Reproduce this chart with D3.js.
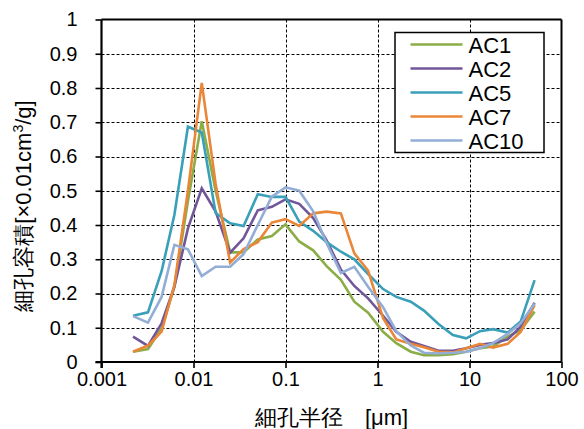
<!DOCTYPE html>
<html><head><meta charset="utf-8">
<script src="https://cdn.jsdelivr.net/npm/d3@7"></script>
<style>
html,body{margin:0;padding:0;background:#fff;}
svg{display:block;}
text{font-family:Arial,"Liberation Sans",sans-serif;}
</style></head>
<body>
<svg id="c" width="584" height="429"></svg>
<script>
const radius = [0.0022,0.0032,0.0045,0.0062,0.0087,0.0123,0.0174,0.025,0.035,0.050,0.071,0.10,0.141,0.20,0.28,0.40,0.56,0.79,1.15,1.6,2.3,3.2,4.6,6.6,9.2,13,18,26,36,51];
const ac1  = [0.030,0.038,0.098,0.22,0.47,0.703,0.50,0.32,0.32,0.358,0.368,0.402,0.352,0.326,0.28,0.24,0.176,0.144,0.088,0.055,0.030,0.020,0.020,0.023,0.030,0.040,0.045,0.074,0.093,0.147];
const ac2  = [0.074,0.047,0.113,0.22,0.39,0.507,0.439,0.319,0.361,0.443,0.453,0.475,0.462,0.42,0.355,0.27,0.222,0.186,0.135,0.088,0.059,0.047,0.033,0.033,0.040,0.050,0.055,0.066,0.103,0.173];
const ac5  = [0.135,0.145,0.265,0.43,0.687,0.67,0.435,0.405,0.397,0.49,0.482,0.482,0.41,0.383,0.35,0.322,0.30,0.257,0.213,0.19,0.176,0.15,0.111,0.079,0.069,0.09,0.096,0.086,0.118,0.239];
const ac7  = [0.030,0.048,0.089,0.225,0.50,0.815,0.52,0.29,0.33,0.35,0.407,0.417,0.397,0.434,0.439,0.434,0.317,0.267,0.128,0.066,0.053,0.043,0.030,0.028,0.040,0.053,0.042,0.053,0.088,0.166];
const ac10 = [0.134,0.115,0.19,0.342,0.329,0.251,0.278,0.278,0.315,0.40,0.483,0.51,0.50,0.44,0.347,0.26,0.278,0.22,0.16,0.09,0.048,0.027,0.025,0.027,0.030,0.040,0.055,0.082,0.113,0.171];
const seriesNames = ["AC1","AC2","AC5","AC7","AC10"];
const seriesColors = ["#8aad47","#71569a","#3a9fb8","#ea8638","#92aed7"];
const xTicks = [0.001,0.01,0.1,1,10,100];
const xTickLabels = ["0.001","0.01","0.1","1","10","100"];
const yTicks = [0,0.1,0.2,0.3,0.4,0.5,0.6,0.7,0.8,0.9,1];
const yTickLabels = ["0","0.1","0.2","0.3","0.4","0.5","0.6","0.7","0.8","0.9","1"];

const seriesValues = [ac1,ac2,ac5,ac7,ac10];
const L=101.5,R=561.5,T=19.5,B=362;
const svg = d3.select("#c");
const x = d3.scaleLog().domain([0.001,100]).range([L,R]);
const y = d3.scaleLinear().domain([0,1]).range([B,T]);

// grid
const g = svg.append("g");
g.selectAll("line.h").data(yTicks.slice(1,-1)).enter().append("line")
  .attr("x1",L).attr("x2",R).attr("y1",d=>Math.round(y(d))+0.5).attr("y2",d=>Math.round(y(d))+0.5)
  .attr("stroke","#000").attr("stroke-width",1).attr("stroke-dasharray","3,2");
g.selectAll("line.v").data(xTicks.slice(1,-1)).enter().append("line")
  .attr("y1",T).attr("y2",B).attr("x1",d=>Math.round(x(d))+0.5).attr("x2",d=>Math.round(x(d))+0.5)
  .attr("stroke","#000").attr("stroke-width",1).attr("stroke-dasharray","3,2");
// frame top/right
svg.append("line").attr("x1",L).attr("x2",R).attr("y1",T).attr("y2",T).attr("stroke","#000").attr("stroke-width",2);
svg.append("line").attr("x1",R).attr("x2",R).attr("y1",T).attr("y2",B).attr("stroke","#000").attr("stroke-width",2);

// lines
const line = d3.line().x((d,i)=>x(radius[i])).y(d=>y(d));
seriesValues.forEach((vals,k)=>{
  svg.append("path").attr("d",line(vals)).attr("fill","none")
    .attr("stroke",seriesColors[k]).attr("stroke-width",2.6).attr("stroke-linejoin","miter");
});

// axes
const xAxis = d3.axisBottom(x).tickValues(xTicks).tickFormat((d,i)=>xTickLabels[i]).tickSize(6).tickPadding(4);
const gx = svg.append("g").attr("transform",`translate(0,${B})`).call(xAxis);
gx.select(".domain").attr("stroke-width",2.2).attr("d",`M${L-6},0H${R}`);
gx.selectAll(".tick line").attr("stroke-width",1.6);
gx.selectAll("text").attr("font-size",20).attr("fill","#000").attr("font-family","Arial, 'Liberation Sans', sans-serif");

const yAxis = d3.axisLeft(y).tickValues(yTicks).tickFormat((d,i)=>yTickLabels[i]).tickSize(6).tickPadding(18);
const gy = svg.append("g").attr("transform",`translate(${L},0)`).call(yAxis);
gy.select(".domain").attr("stroke-width",2.2).attr("d",`M0,${T}V${B+6}`);
gy.selectAll(".tick line").attr("stroke-width",1.6);
gy.selectAll("text").attr("font-size",20).attr("fill","#000").attr("font-family","Arial, 'Liberation Sans', sans-serif");

// titles
svg.append("text").attr("x",(L+R)/2).attr("y",425).attr("text-anchor","middle")
  .attr("font-size",22).attr("font-family","Arial,'Noto Sans CJK JP',sans-serif").text("細孔半径　[μm]");
const yt = svg.append("text").attr("transform","translate(31,206) rotate(-90)").attr("text-anchor","middle")
  .attr("font-size",22).attr("font-family","Arial,'Noto Sans CJK JP',sans-serif");
yt.append("tspan").text("細孔容積[×0.01cm");
yt.append("tspan").attr("font-size",14).attr("dy",-8).text("3");
yt.append("tspan").attr("dy",8).text("/g]");

// legend
const lg = svg.append("g");
lg.append("rect").attr("x",395).attr("y",32.5).attr("width",149).attr("height",120)
  .attr("fill","#fff").attr("stroke","#000").attr("stroke-width",1.5);
seriesNames.forEach((n,k)=>{
  const yy = 44.5 + k*24;
  lg.append("line").attr("x1",410.5).attr("x2",462.5).attr("y1",yy).attr("y2",yy)
    .attr("stroke",seriesColors[k]).attr("stroke-width",2.6);
  lg.append("text").attr("x",468.5).attr("y",yy+8).attr("font-size",22).text(n);
});
</script>
</body></html>
